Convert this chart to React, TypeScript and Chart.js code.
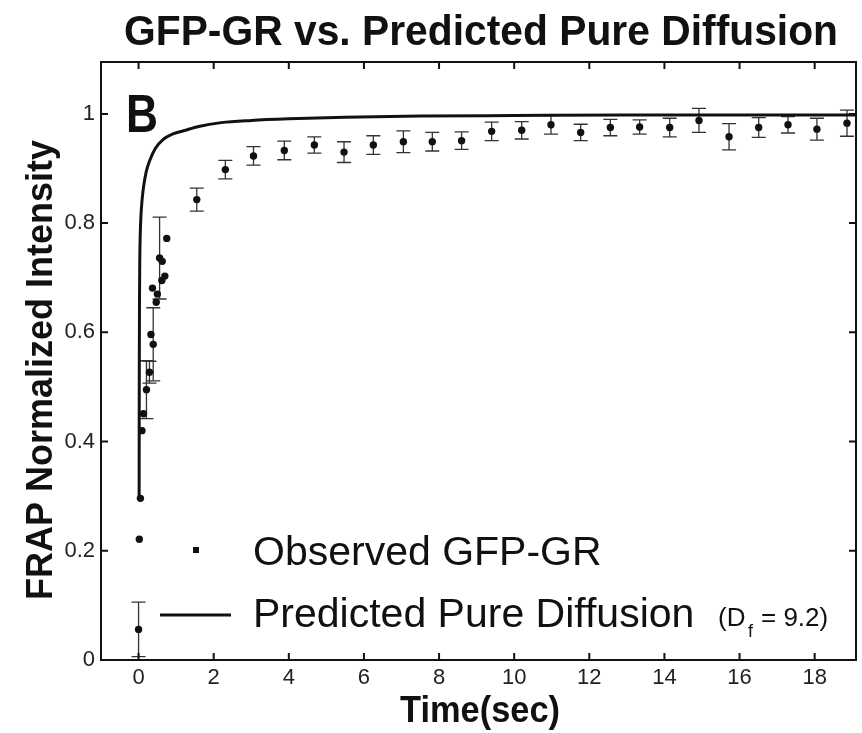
import { useEffect, useRef } from "react";
import { Chart, registerables } from "chart.js";

Chart.register(...registerables);

// Observed FRAP recovery (time in seconds, normalized intensity, error half-height)
const obsTime = [
  0.0, 0.02, 0.05, 0.09, 0.13, 0.21, 0.29, 0.33, 0.39, 0.37, 0.47, 0.5, 0.56, 0.62, 0.63, 0.7, 0.75,
  1.55, 2.31, 3.06, 3.88, 4.68, 5.47, 6.25, 7.05, 7.82, 8.6, 9.4, 10.2, 10.98, 11.77, 12.56, 13.34,
  14.14, 14.92, 15.72, 16.51, 17.29, 18.06, 18.86,
];
const obsValue = [
  0.056, 0.221, 0.296, 0.42, 0.451, 0.495, 0.527, 0.596, 0.578, 0.681, 0.655, 0.67, 0.736, 0.695, 0.73,
  0.703, 0.772, 0.843, 0.898, 0.923, 0.933, 0.943, 0.93, 0.943, 0.949, 0.949, 0.951, 0.968, 0.97, 0.98,
  0.966, 0.975, 0.976, 0.975, 0.988, 0.958, 0.975, 0.98, 0.972, 0.983,
];
const obsError = [
  0.05, 0, 0, 0, 0, 0.053, 0.02, 0, 0.067, 0, 0, 0, 0.075, 0, 0, 0, 0, 0.021, 0.017, 0.017, 0.017,
  0.015, 0.019, 0.017, 0.02, 0.017, 0.016, 0.017, 0.016, 0.017, 0.015, 0.015, 0.013, 0.017, 0.022,
  0.024, 0.018, 0.015, 0.02, 0.024,
];

// Predicted pure-diffusion recovery curve
const curveTime = [
  0.015, 0.017, 0.02, 0.025, 0.032, 0.045, 0.065, 0.09, 0.13, 0.2, 0.3, 0.45, 0.65, 0.9, 1.2, 1.6,
  2.2, 3, 4, 5.5, 7.5, 10, 13, 16, 19.1,
];
const curveValue = [
  0.293, 0.42, 0.55, 0.66, 0.73, 0.78, 0.815, 0.84, 0.865, 0.893, 0.915, 0.937, 0.953, 0.963, 0.969,
  0.977, 0.984, 0.988, 0.991, 0.994, 0.996, 0.997, 0.998, 0.998, 0.998,
];

const xTicks = [0, 2, 4, 6, 8, 10, 12, 14, 16, 18];
const yTicks = [0, 0.2, 0.4, 0.6, 0.8, 1];
const yTickLabels = ["0", "0.2", "0.4", "0.6", "0.8", "1"];

const FONT = '"Liberation Sans", Arial, Helvetica, sans-serif';
const INK = "#111";

function squeezed(
  ctx: CanvasRenderingContext2D,
  text: string,
  cx: number,
  baseline: number,
  font: string,
  width: number,
  rotate = 0
) {
  ctx.save();
  ctx.font = font;
  const w = ctx.measureText(text).width;
  ctx.translate(cx, baseline);
  if (rotate) ctx.rotate(rotate);
  ctx.scale(width / w, 1);
  ctx.textAlign = "center";
  ctx.textBaseline = "alphabetic";
  ctx.fillText(text, 0, 0);
  ctx.restore();
}

const errorBars = {
  id: "errorBars",
  beforeDatasetsDraw(chart: any) {
    const { ctx, scales } = chart;
    const x = scales.x;
    const y = scales.y;
    ctx.save();
    ctx.strokeStyle = "#333";
    ctx.lineWidth = 1.3;
    obsTime.forEach((t, i) => {
      const e = obsError[i];
      if (!e) return;
      const px = x.getPixelForValue(t);
      const top = y.getPixelForValue(obsValue[i] + e);
      const bot = y.getPixelForValue(obsValue[i] - e);
      ctx.beginPath();
      ctx.moveTo(px, top);
      ctx.lineTo(px, bot);
      ctx.moveTo(px - 7, top);
      ctx.lineTo(px + 7, top);
      ctx.moveTo(px - 7, bot);
      ctx.lineTo(px + 7, bot);
      ctx.stroke();
    });
    ctx.restore();
  },
};

const frameAndText = {
  id: "frameAndText",
  afterDatasetsDraw(chart: any) {
    const { ctx, chartArea: a, scales } = chart;
    const x = scales.x;
    const y = scales.y;
    ctx.save();
    ctx.strokeStyle = INK;
    ctx.lineWidth = 2;
    ctx.strokeRect(a.left, a.top, a.right - a.left, a.bottom - a.top);
    ctx.beginPath();
    const tl = 7;
    xTicks.forEach((v) => {
      const px = x.getPixelForValue(v);
      ctx.moveTo(px, a.bottom);
      ctx.lineTo(px, a.bottom - tl);
      ctx.moveTo(px, a.top);
      ctx.lineTo(px, a.top + tl);
    });
    yTicks.forEach((v) => {
      const py = y.getPixelForValue(v);
      ctx.moveTo(a.left, py);
      ctx.lineTo(a.left + tl, py);
      ctx.moveTo(a.right, py);
      ctx.lineTo(a.right - tl, py);
    });
    ctx.stroke();

    ctx.fillStyle = INK;
    // panel letter
    squeezed(ctx, "B", 142, 132, `bold 54px ${FONT}`, 32);

    // legend
    ctx.fillRect(193, 547, 6, 6);
    ctx.lineWidth = 3;
    ctx.beginPath();
    ctx.moveTo(160, 615);
    ctx.lineTo(231, 615);
    ctx.stroke();
    ctx.textAlign = "left";
    ctx.textBaseline = "alphabetic";
    ctx.font = `41px ${FONT}`;
    ctx.fillText("Observed GFP-GR", 253, 565);
    ctx.fillText("Predicted Pure Diffusion", 253, 627);
    ctx.font = `26px ${FONT}`;
    ctx.fillText("(D", 718, 626);
    ctx.font = `18px ${FONT}`;
    ctx.fillText("f", 748, 637);
    ctx.font = `26px ${FONT}`;
    ctx.fillText("= 9.2)", 761, 626);

    // titles
    squeezed(ctx, "GFP-GR vs. Predicted Pure Diffusion", 481, 45, `bold 43px ${FONT}`, 714);
    squeezed(ctx, "Time(sec)", 480, 722, `bold 36px ${FONT}`, 160);
    squeezed(ctx, "FRAP Normalized Intensity", 52, 370, `bold 36px ${FONT}`, 460, -Math.PI / 2);
    ctx.restore();
  },
};

export default function App() {
  const canvasRef = useRef<HTMLCanvasElement | null>(null);

  useEffect(() => {
    const canvas = canvasRef.current;
    if (!canvas) return;
    const chart = new Chart(canvas, {
      type: "scatter",
      data: {
        datasets: [
          {
            type: "line",
            label: "Predicted Pure Diffusion",
            data: curveTime.map((t, i) => ({ x: t, y: curveValue[i] })),
            borderColor: INK,
            borderWidth: 3,
            pointRadius: 0,
            cubicInterpolationMode: "monotone",
            fill: false,
          },
          {
            type: "scatter",
            label: "Observed GFP-GR",
            data: obsTime.map((t, i) => ({ x: t, y: obsValue[i] })),
            backgroundColor: INK,
            borderColor: INK,
            pointRadius: 3.7,
            pointBorderWidth: 0,
          },
        ],
      },
      options: {
        animation: false,
        responsive: false,
        devicePixelRatio: 1,
        layout: { padding: { left: 0, top: 62, right: 6, bottom: 0 } },
        plugins: {
          legend: { display: false },
          tooltip: { enabled: false },
          title: { display: false },
        },
        scales: {
          x: {
            type: "linear",
            min: -1,
            max: 19.1,
            afterFit: (s: any) => {
              s.height = 73;
            },
            afterBuildTicks: (s: any) => {
              s.ticks = xTicks.map((v) => ({ value: v }));
            },
            ticks: {
              color: "#222",
              font: { family: FONT, size: 22 },
              padding: 5,
              maxRotation: 0,
              callback: (v: any) => String(v),
            },
            grid: { display: false, drawTicks: false },
            border: { display: false },
          },
          y: {
            type: "linear",
            min: 0,
            max: 1.095,
            afterFit: (s: any) => {
              s.width = 101;
            },
            afterBuildTicks: (s: any) => {
              s.ticks = yTicks.map((v) => ({ value: v }));
            },
            ticks: {
              color: "#222",
              font: { family: FONT, size: 22 },
              padding: 6,
              callback: (v: any) => {
                const i = yTicks.findIndex((t) => Math.abs(t - Number(v)) < 1e-9);
                return i >= 0 ? yTickLabels[i] : "";
              },
            },
            grid: { display: false, drawTicks: false },
            border: { display: false },
          },
        },
      },
      plugins: [errorBars, frameAndText],
    });
    return () => chart.destroy();
  }, []);

  return (
    <div style={{ position: "fixed", left: 0, top: 0, width: 862, height: 733, background: "#fff" }}>
      <canvas ref={canvasRef} width={862} height={733} style={{ display: "block" }} />
    </div>
  );
}
